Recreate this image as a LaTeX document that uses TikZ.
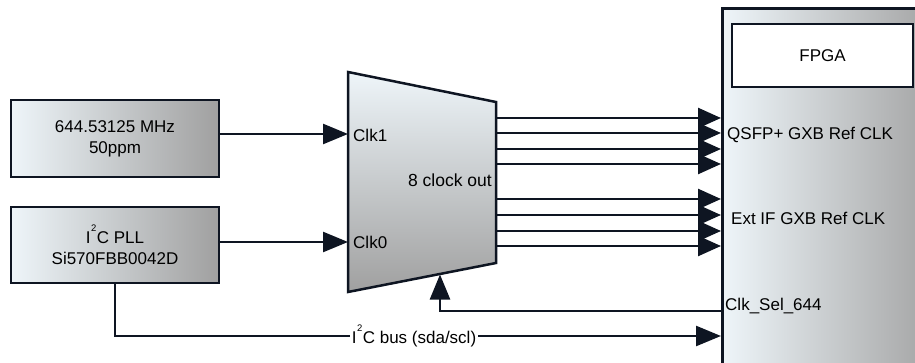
\documentclass[tikz,border=0pt]{standalone}
\usepackage{fontspec}
\setmainfont{Liberation Sans}
\usetikzlibrary{arrows.meta}
\definecolor{edge}{HTML}{0E1522}
\definecolor{lightfill}{HTML}{EEF5F9}
\definecolor{grayfill}{HTML}{A0A0A0}
% I2C with the small raised 2
\newcommand\iictext{I\kern0.5pt\raisebox{0.72em}{\fontsize{9.5}{9.5}\selectfont 2}\kern0.5pt C}
\begin{document}
\begin{tikzpicture}[x=1pt,y=-1pt,
  font=\fontsize{17}{20}\selectfont,
  block/.style={draw=edge, line width=2.8pt, left color=lightfill, right color=grayfill,
    align=center, inner sep=0pt},
  wire/.style={draw=edge, line width=2.5pt},
  arr/.style={wire, -{Triangle[length=25pt,width=20pt]}},
  outarr/.style={wire, -{Triangle[length=23pt,width=20pt]}},
  lbl/.style={inner sep=0pt, text=black}]
\clip (0,0) rectangle (915,363);

% clock sources
\node[block, minimum width=208pt, minimum height=77pt] (osc) at (115,138.5)
  {644.53125 MHz\\[1pt]50ppm};
\node[block, minimum width=208pt, minimum height=76pt] (pll) at (115,245)
  {\iictext{} PLL\\[1pt]Si570FBB0042D};

% clock buffer / mux
\coordinate (m1) at (348,72);
\coordinate (m2) at (496,102);
\coordinate (m3) at (496,263);
\coordinate (m4) at (348,292);
\draw[draw=edge, line width=2.5pt, top color=lightfill, bottom color=grayfill]
  (m1) -- (m2) -- (m3) -- (m4) -- cycle;
\coordinate (clk1in) at (348,134);
\coordinate (clk0in) at (348,242);
\coordinate (selin) at (440,274.5);
\node[lbl, anchor=west] (clk1) at (353,135) {Clk1};
\node[lbl, anchor=west] (clk0) at (353,242) {Clk0};
\node[lbl, anchor=east, font=\fontsize{17.5}{20}\selectfont] (outs) at (492,180) {8 clock out};

% FPGA
\node[block, minimum width=222pt, minimum height=380pt, anchor=north west] (fpga) at (721,7) {};
\node[draw=edge, line width=2.3pt, fill=white, minimum width=181pt, minimum height=63pt]
  (fpganame) at (822.5,55.5) {FPGA};
\node[lbl, anchor=west] (qsfp) at (727,135) {QSFP+ GXB Ref CLK};
\node[lbl, anchor=west] (extif) at (731,218) {Ext IF GXB Ref CLK};
\node[lbl, anchor=west] (clksel) at (725,306) {Clk\_Sel\_644};

% inputs to the mux
\draw[arr] (osc.east |- clk1in) -- (clk1in);
\draw[arr] (pll.east |- clk0in) -- (clk0in);

% eight clock outputs
\foreach \i/\y in {1/118,2/133,3/149,4/164,5/199,6/215,7/231,8/246} {
  \coordinate (o\i) at (497,\y);
  \draw[outarr] (o\i) -- (o\i -| fpga.west);
}

% clock select back to the mux
\coordinate (selsrc) at (fpga.west |- 0,311);
\draw[arr] (selsrc) -| (selin);

% I2C bus
\coordinate (busturn) at (pll.south |- 0,336);
\draw[arr] (pll.south) -- (busturn) -- (busturn -| fpga.west);
\node[fill=white, inner sep=2pt] (bus) at (414,336) {\iictext{} bus (sda/scl)};
\end{tikzpicture}
\end{document}
